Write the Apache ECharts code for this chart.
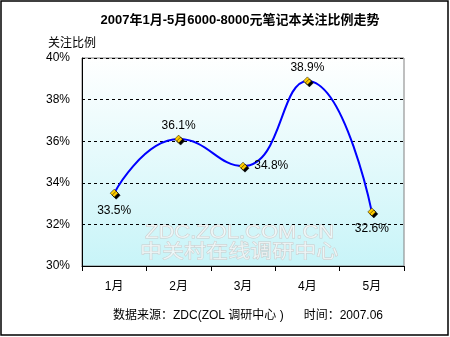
<!DOCTYPE html>
<html><head><meta charset="utf-8">
<script src="https://cdn.jsdelivr.net/npm/echarts@6/dist/echarts.min.js"></script>
<style>html,body{margin:0;padding:0;background:#fff}#c{width:450px;height:337px}</style>
</head><body><div id="c"></div>
<script>
const categories = ['1月','2月','3月','4月','5月'];
const values = [33.5, 36.1, 34.8, 38.9, 32.6];
const labelPositions = ['bottom','top','right','top','bottom'];
const yTicks = [30, 32, 34, 36, 38, 40];

const font = "Liberation Sans, 'Noto Sans CJK SC', sans-serif";
const chart = echarts.init(document.getElementById('c'));
chart.setOption({
  animation: false,
  backgroundColor: '#fff',
  title: {
    text: '2007年1月-5月6000-8000元笔记本关注比例走势',
    left: 235, top: 9, textAlign: 'center',
    textStyle: {fontSize: 13, fontWeight: 'bold', color: '#000', fontFamily: font}
  },
  grid: {left: 82, right: 46, top: 58, bottom: 71, show: true, borderColor: '#808080', borderWidth: 1,
    backgroundColor: {type: 'linear', x: 0, y: 0, x2: 0, y2: 1, colorStops: [{offset: 0, color: '#ffffff'}, {offset: 1, color: '#c8f4f8'}]}},
  xAxis: {
    type: 'category', data: categories, boundaryGap: true,
    axisLine: {lineStyle: {color: '#000', width: 1}},
    axisTick: {show: true, length: 5, inside: false, lineStyle: {color: '#000'}},
    axisLabel: {color: '#000', fontSize: 12, margin: 15, fontFamily: font},
    splitLine: {show: false}
  },
  yAxis: {
    type: 'value', min: yTicks[0], max: yTicks[yTicks.length-1], interval: 2,
    name: '关注比例', nameLocation: 'end', nameGap: 8,
    nameTextStyle: {color: '#000', fontSize: 12, fontFamily: font, align: 'right', padding: [0, -14, 0, 0]},
    axisLine: {show: true, lineStyle: {color: '#000'}},
    axisTick: {show: false},
    axisLabel: {color: '#000', fontSize: 12, margin: 12, fontFamily: font, formatter: v => v + '%'},
    splitLine: {show: true, lineStyle: {color: '#000', type: [3, 3], width: 1}}
  },
  graphic: [
    {type: 'text', x: 145, y: 224, scaleX: 1.22, style: {text: 'ZDC.ZOL.COM.CN', fill: 'rgba(255,255,255,0.6)', stroke: '#cacaca', lineWidth: 0.8, fontSize: 18, fontFamily: font}},
    {type: 'text', x: 140, y: 241, scaleX: 1.16, style: {text: '中关村在线调研中心', fill: 'rgba(255,255,255,0.6)', stroke: '#cacaca', lineWidth: 0.8, fontSize: 19, fontFamily: "'Noto Sans CJK SC', sans-serif"}},
    {type: 'text', style: {text: '数据来源：ZDC(ZOL 调研中心 )      时间：2007.06', fill: '#000', fontSize: 12, fontFamily: font}, top: 310, left: 113},
    {type: 'rect', shape: {x: 1, y: 1, width: 447, height: 334}, style: {fill: 'none', stroke: '#000', lineWidth: 1.5}}
  ],
  series: [{
    type: 'line', data: values.map((v, i) => ({value: v, label: {position: labelPositions[i], distance: labelPositions[i] === 'top' ? 3 : 7}})),
    smooth: 0.5,
    lineStyle: {color: '#0000ff', width: 2},
    symbol: 'diamond', symbolSize: 8,
    itemStyle: {color: '#ffcc00', borderColor: '#000', borderWidth: 0.5, shadowColor: '#000', shadowOffsetX: 2, shadowOffsetY: 2, shadowBlur: 0},
    label: {show: true, color: '#000', fontSize: 12, fontFamily: font, formatter: p => p.value.toFixed(1) + '%'}
  }]
});
</script></body></html>
